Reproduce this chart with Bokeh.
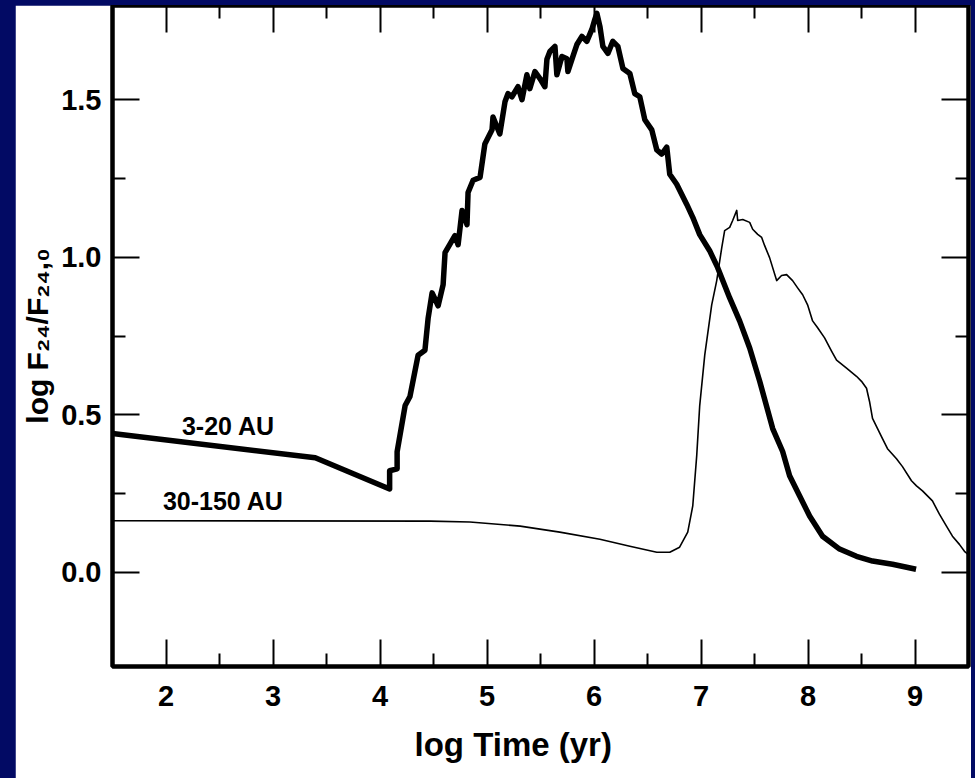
from bokeh.plotting import figure
from bokeh.models import Range1d, LinearAxis, FixedTicker, Label, Title, NumeralTickFormatter
from bokeh.layouts import column
from bokeh.embed import file_html
from bokeh.resources import INLINE

# ---- data ----
x_inner = [1.50, 3.395, 4.09, 4.09, 4.16, 4.16, 4.235, 4.28, 4.356, 4.42,
           4.45, 4.487, 4.543, 4.59, 4.608, 4.70, 4.73, 4.767, 4.813, 4.823,
           4.87, 4.935, 4.98, 5.047, 5.056, 5.12, 5.168, 5.196, 5.233, 5.29,
           5.327, 5.373, 5.40, 5.448, 5.495, 5.541, 5.56, 5.588, 5.635, 5.653,
           5.70, 5.747, 5.756, 5.803, 5.84, 5.887, 5.933, 5.98, 6.008, 6.027,
           6.055, 6.083, 6.13, 6.176, 6.223, 6.27, 6.335, 6.381, 6.428, 6.475,
           6.54, 6.587, 6.633, 6.68, 6.708, 6.773, 6.867, 6.923, 6.988, 7.081,
           7.156, 7.268, 7.361, 7.455, 7.548, 7.67, 7.763, 7.828, 7.922, 8.015,
           8.136, 8.295, 8.453, 8.603, 8.79, 9.01]
y_inner = [0.440, 0.363, 0.264, 0.322, 0.328, 0.382, 0.529, 0.558, 0.689, 0.705,
           0.807, 0.887, 0.846, 0.913, 1.015, 1.069, 1.040, 1.149, 1.104, 1.206,
           1.245, 1.254, 1.360, 1.405, 1.446, 1.392, 1.494, 1.520, 1.510, 1.542,
           1.501, 1.580, 1.536, 1.590, 1.568, 1.542, 1.629, 1.654, 1.670, 1.580,
           1.638, 1.631, 1.590, 1.638, 1.676, 1.702, 1.686, 1.724, 1.756, 1.775,
           1.734, 1.670, 1.648, 1.686, 1.670, 1.600, 1.584, 1.520, 1.510, 1.437,
           1.405, 1.341, 1.328, 1.350, 1.264, 1.232, 1.168, 1.127, 1.072, 1.021,
           0.967, 0.871, 0.798, 0.712, 0.607, 0.456, 0.383, 0.306, 0.242, 0.178,
           0.114, 0.073, 0.050, 0.035, 0.025, 0.009]

x_outer = [1.50, 4.47, 4.84, 5.31, 5.68, 6.055, 6.335, 6.587, 6.708, 6.80,
           6.876, 6.923, 6.96, 6.988, 7.035, 7.10, 7.147, 7.194, 7.221, 7.268,
           7.296, 7.334, 7.343, 7.39, 7.455, 7.483, 7.53, 7.567, 7.595, 7.641,
           7.707, 7.753, 7.80, 7.856, 7.903, 7.95, 7.996, 8.043, 8.09, 8.155,
           8.22, 8.267, 8.36, 8.453, 8.50, 8.547, 8.575, 8.603, 8.65, 8.696,
           8.743, 8.827, 8.883, 8.967, 9.014, 9.07, 9.163, 9.228, 9.294, 9.35,
           9.415, 9.462, 9.50]
y_outer = [0.163, 0.162, 0.159, 0.146, 0.127, 0.104, 0.082, 0.063, 0.063, 0.079,
           0.127, 0.210, 0.370, 0.529, 0.689, 0.849, 0.926, 1.031, 1.085, 1.095,
           1.117, 1.149, 1.117, 1.120, 1.111, 1.089, 1.073, 1.063, 1.037, 0.999,
           0.926, 0.942, 0.945, 0.926, 0.903, 0.881, 0.849, 0.798, 0.776, 0.744,
           0.702, 0.673, 0.648, 0.622, 0.606, 0.584, 0.542, 0.488, 0.456, 0.424,
           0.392, 0.360, 0.335, 0.290, 0.274, 0.258, 0.226, 0.184, 0.146, 0.114,
           0.088, 0.066, 0.055]

series_names = ["3-20 AU", "30-150 AU"]
series_label_x = [2.149, 1.971]
series_label_y = [0.463, 0.226]

x_major_ticks = [2, 3, 4, 5, 6, 7, 8, 9]
x_minor_ticks = [2.5, 3.5, 4.5, 5.5, 6.5, 7.5, 8.5]
y_major_ticks = [0.0, 0.5, 1.0, 1.5]
y_minor_ticks = [0.25, 0.75, 1.25]

x_title = "log Time (yr)"
y_title = "log F\u2082\u2084/F\u2082\u2084,\u2080"

NAVY = "#020a64"
FONT = "Liberation Sans"

p = figure(width=956, height=773,
           x_range=Range1d(1.5, 9.5), y_range=Range1d(-0.3, 1.8),
           output_backend="svg", toolbar_location=None,
           min_border_left=97, min_border_right=3, min_border_top=0,
           min_border_bottom=112,
           background_fill_color="white", border_fill_color="white")
p.margin = (5, 4, 0, 15)
p.xgrid.visible = False
p.ygrid.visible = False
p.outline_line_color = "black"
p.outline_line_width = 4.5


def style(ax, major_len, minor_len):
    ax.axis_line_color = None
    ax.major_tick_in = major_len
    ax.major_tick_out = 0
    ax.minor_tick_in = minor_len
    ax.minor_tick_out = 0
    ax.major_tick_line_width = 2
    ax.minor_tick_line_width = 2
    ax.major_tick_line_color = "black"
    ax.minor_tick_line_color = "black"
    ax.major_label_text_font = FONT
    ax.major_label_text_font_style = "bold"
    ax.major_label_text_font_size = "29px"
    ax.major_label_text_color = "black"


xa = p.xaxis[0]
xa.ticker = FixedTicker(ticks=x_major_ticks, minor_ticks=x_minor_ticks)
style(xa, 27, 13)
xa.major_label_standoff = 19

ya = p.yaxis[0]
ya.ticker = FixedTicker(ticks=y_major_ticks, minor_ticks=y_minor_ticks)
style(ya, 27, 13)
ya.major_label_standoff = 11
ya.formatter = NumeralTickFormatter(format="0.0")
ya.axis_label = y_title
ya.axis_label_text_font = FONT
ya.axis_label_text_font_style = "bold"
ya.axis_label_text_font_size = "30px"
ya.axis_label_text_color = "black"
ya.axis_label_standoff = 4

# mirrored tick marks on the top and right edges (no labels): long + short
for ticks, side in ((x_major_ticks, "above"), (x_minor_ticks, "above"),
                    (y_major_ticks, "right"), (y_minor_ticks, "right")):
    length = 27 if ticks in (x_major_ticks, y_major_ticks) else 13
    ax = LinearAxis(ticker=FixedTicker(ticks=[], minor_ticks=ticks))
    style(ax, length, length)
    ax.major_label_standoff = 0
    ax.axis_label_standoff = 0
    p.add_layout(ax, side)

# x title, shifted left of centre as in the reference
p.add_layout(Title(text=x_title, align="left", offset=302, standoff=31,
                   vertical_align="bottom",
                   text_font=FONT, text_font_style="bold", text_font_size="33px",
                   text_color="black"), "below")

p.line(x_inner, y_inner, line_color="black", line_width=5.5, line_join="round")
p.line(x_outer, y_outer, line_color="black", line_width=1.6, line_join="round")

for name, lx, ly in zip(series_names, series_label_x, series_label_y):
    p.add_layout(Label(x=lx, y=ly, text=name, text_font=FONT, text_font_style="bold",
                       text_font_size="25px", text_color="black",
                       text_align="left", text_baseline="alphabetic"))

layout = column(p, width=975, height=778, styles={"background-color": NAVY})

open("out.html", "w").write(file_html(layout, INLINE))
